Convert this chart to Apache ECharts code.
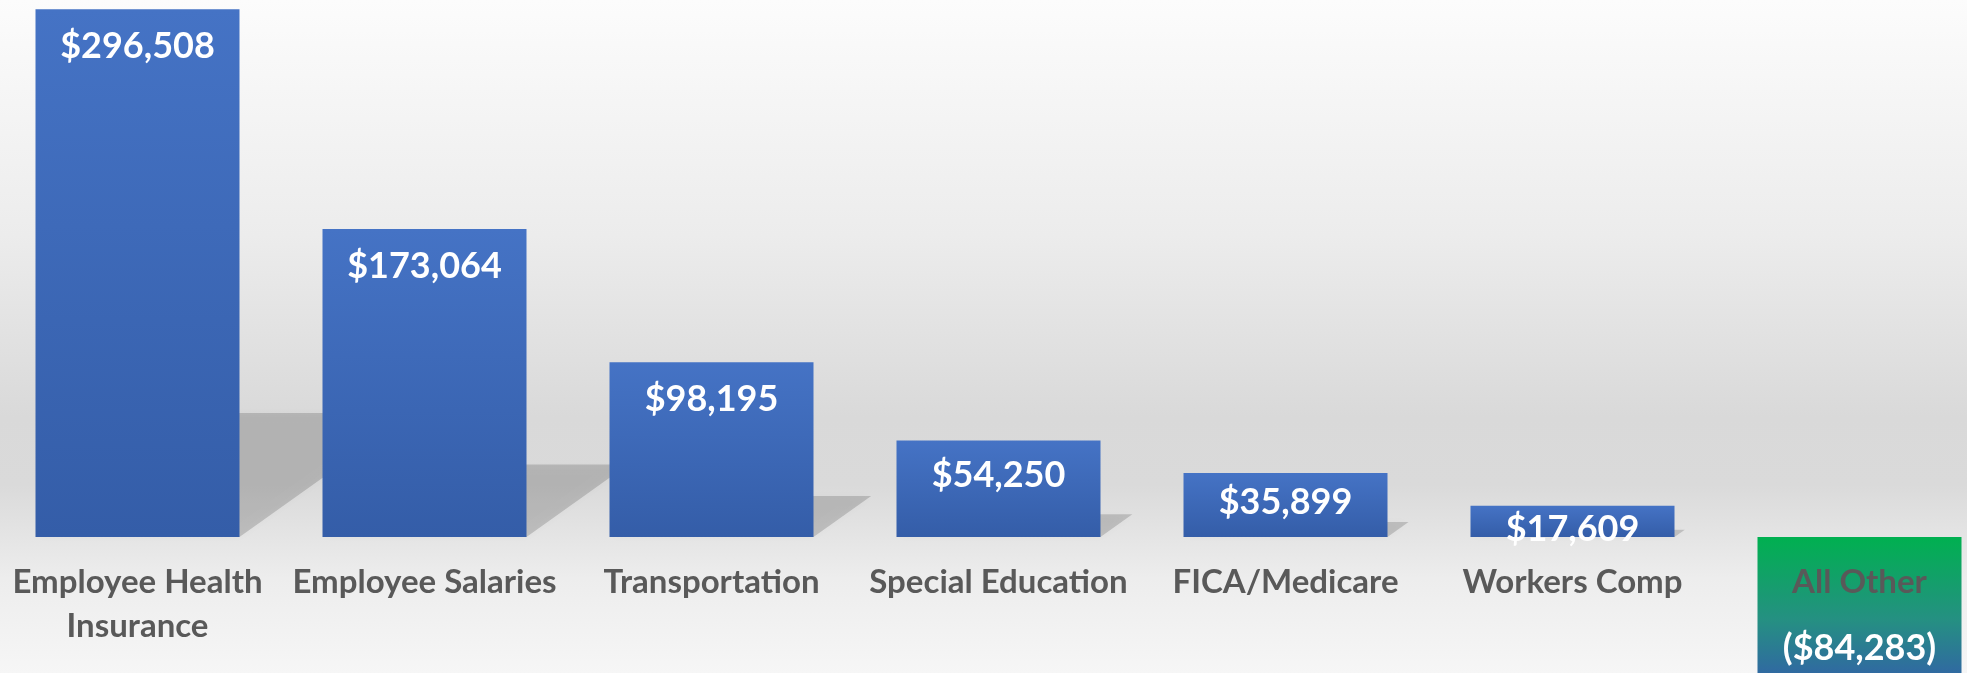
<!DOCTYPE html>
<html>
<head>
<meta charset="utf-8">
<script src="https://cdn.jsdelivr.net/npm/echarts@6/dist/echarts.min.js"></script>
<style>
    html, body { margin: 0; padding: 0; }
    #myChart {
        width: 1967px;
        height: 673px;
        background: linear-gradient(to bottom, #fcfcfc 0%, #ececec 35%, #d9d9d9 62%, #dadada 72%, #ededed 86%, #f6f6f6 100%);
    }
</style>
</head>
<body>
<div id="myChart"></div>
<script>
    const categories = ['Employee Health\nInsurance', 'Employee Salaries', 'Transportation', 'Special Education', 'FICA/Medicare', 'Workers Comp', 'All Other'];
    const amounts = [296508, 173064, 98195, 54250, 35899, 17609, -84283];

    const BAR_W = 204;
    const FONT = 'Lato';

    function money(v) {
        const s = '$' + Math.abs(v).toLocaleString('en-US');
        return v < 0 ? '(' + s + ')' : s;
    }

    const blueFill = new echarts.graphic.LinearGradient(0, 0, 0, 1, [
        { offset: 0, color: '#4573c5' },
        { offset: 1, color: '#345da8' }
    ]);
    const otherFill = new echarts.graphic.LinearGradient(0, 0, 0, 1, [
        { offset: 0, color: '#00b050' },
        { offset: 0.55, color: '#259082' },
        { offset: 1, color: '#3360a9' }
    ]);

    function barData(distances) {
        return amounts.map((v, i) => ({
            value: v,
            itemStyle: { color: v < 0 ? otherFill : blueFill },
            label: {
                position: v < 0 ? 'insideBottom' : 'insideTop',
                distance: distances ? distances[i] : (v < 0 ? 21 : 19)
            }
        }));
    }

    const myChart = echarts.init(document.getElementById('myChart'));  // 初始化
    // 网格底边就是 0 线，负的柱子画到网格外面去
    myChart.setOption({
        animation: false,
        backgroundColor: 'transparent',
        grid: { left: -6, width: 2009, top: 3, height: 534, containLabel: false, outerBoundsMode: 'none' },
        xAxis: {
            type: 'category',
            data: categories,
            z: 10,
            axisLine: { show: false },
            axisTick: { show: false },
            axisLabel: {
                interval: 0,
                margin: 23,
                color: '#595959',
                fontFamily: FONT,
                fontWeight: 'bold',
                fontSize: 33,
                lineHeight: 44
            }
        },
        yAxis: {
            type: 'value',
            min: 0,
            max: 300000,
            show: false,
            splitLine: { show: false }
        },
        series: [
            {
                // 阴影
                type: 'custom',
                z: 1,
                silent: true,
                clip: false,
                data: amounts.map((v, i) => [i, v]).filter(d => d[1] > 0),
                renderItem: function (params, api) {
                    const base = api.coord([api.value(0), 0]);
                    const top = api.coord([api.value(0), api.value(1)]);
                    const h = base[1] - top[1];
                    const x0 = base[0] - BAR_W / 2, x1 = base[0] + BAR_W / 2, y = base[1];
                    const dx = 0.33 * h, dh = 0.235 * h;
                    return {
                        type: 'polygon',
                        shape: { points: [[x0, y], [x1, y], [x1 + dx, y - dh], [x0 + dx, y - dh]] },
                        style: { fill: 'rgba(0,0,0,0.16)', shadowBlur: 8, shadowColor: 'rgba(0,0,0,0.14)' }
                    };
                }
            },
            {
                type: 'bar',
                z: 2,
                clip: false,
                barWidth: BAR_W,
                data: barData(),
                label: {
                    show: true,
                    color: '#ffffff',
                    fontFamily: FONT,
                    fontWeight: 'bold',
                    fontSize: 36,
                    formatter: p => money(p.value)
                }
            }
        ]
    });

    // 矮柱子的标签往上挤一点
    const dist = amounts.map((v, i) => {
        if (v < 0) return 21;
        const h = myChart.convertToPixel({ gridIndex: 0 }, [i, 0])[1] - myChart.convertToPixel({ gridIndex: 0 }, [i, v])[1];
        return Math.min(19, 0.18 * h);
    });
    myChart.setOption({ series: [{}, { data: barData(dist) }] });
</script>
</body>
</html>
